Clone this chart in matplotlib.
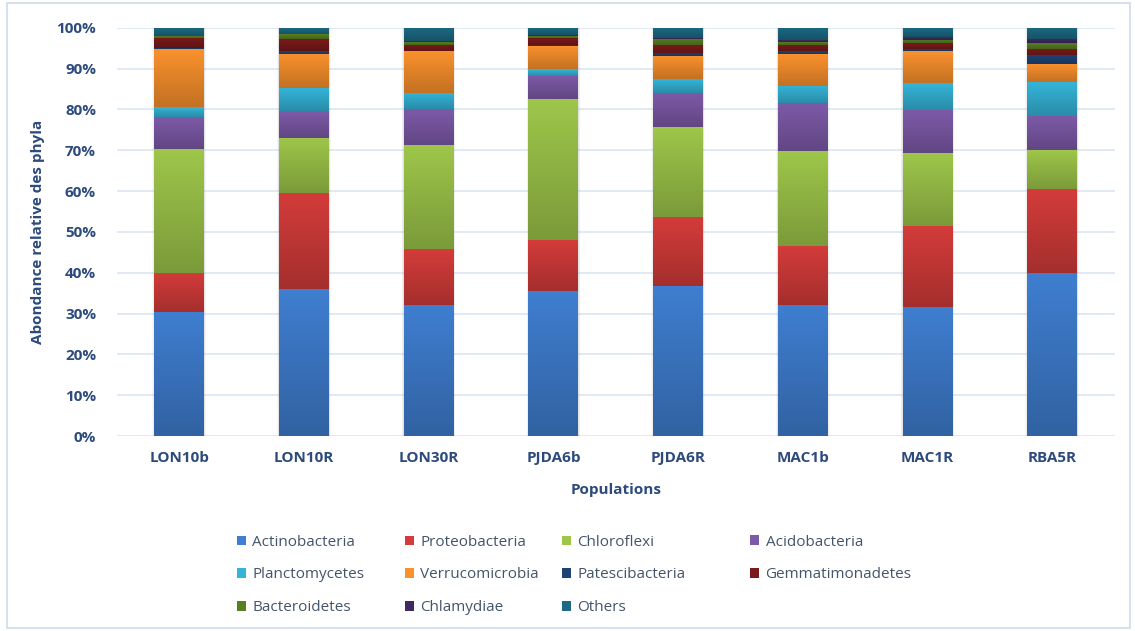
import numpy as np
import matplotlib
matplotlib.use("Agg")
import matplotlib.pyplot as plt
from matplotlib.patches import Rectangle
from matplotlib.colors import to_rgb
from matplotlib.ticker import PercentFormatter

populations = ["LON10b", "LON10R", "LON30R", "PJDA6b", "PJDA6R", "MAC1b", "MAC1R", "RBA5R"]

phyla = ["Actinobacteria", "Proteobacteria", "Chloroflexi", "Acidobacteria",
         "Planctomycetes", "Verrucomicrobia", "Patescibacteria", "Gemmatimonadetes",
         "Bacteroidetes", "Chlamydiae", "Others"]

# relative abundance (%) per population
actinobacteria   = [30.4, 36.0, 32.1, 35.5, 36.8, 32.1, 31.6, 40.0]
proteobacteria   = [ 9.6, 23.6, 13.7, 12.5, 16.9, 14.5, 19.9, 20.5]
chloroflexi      = [30.3, 13.5, 25.6, 34.5, 21.9, 23.1, 17.8,  9.5]
acidobacteria    = [ 7.9,  6.5,  8.6,  5.8,  8.4, 11.8, 10.6,  8.5]
planctomycetes   = [ 2.4,  5.6,  4.1,  1.5,  3.4,  4.2,  6.5,  8.2]
verrucomicrobia  = [14.2,  8.4, 10.1,  5.8,  5.7,  7.8,  7.8,  4.5]
patescibacteria  = [ 0.3,  0.7,  0.2,  0.3,  0.8,  0.7,  0.7,  2.1]
gemmatimonadetes = [ 2.5,  2.9,  1.5,  1.7,  1.9,  1.7,  1.4,  1.6]
bacteroidetes    = [ 0.3,  1.2,  0.6,  0.4,  1.5,  0.6,  0.8,  1.4]
chlamydiae       = [ 0.1,  0.0,  0.2,  0.2,  0.2,  0.4,  0.7,  1.0]
others           = [ 2.0,  1.6,  3.3,  1.8,  2.5,  3.1,  2.2,  2.7]

series = [actinobacteria, proteobacteria, chloroflexi, acidobacteria,
          planctomycetes, verrucomicrobia, patescibacteria, gemmatimonadetes,
          bacteroidetes, chlamydiae, others]

colors = ["#3F7ED0", "#D33C3A", "#9EC64A", "#7D5AA8", "#35B4D8", "#FA912D",
          "#1E4476", "#7A1A1A", "#587E22", "#3F2A60", "#1C6A84"]

text_color = "#2C4A7C"
legend_text = "#44546A"
grid_color = "#DCE6F2"

plt.rcParams["font.family"] = ["Open Sans", "DejaVu Sans"]

fig = plt.figure(figsize=(11.35, 6.31), dpi=100)
ax = fig.add_axes([0.103, 0.309, 0.879, 0.647])

x = np.arange(len(populations))
width = 0.4
bottom = np.zeros(len(populations))


def shade(c, f):
    r, g, b = to_rgb(c)
    return (r * f, g * f, b * f)


for vals, col, name in zip(series, colors, phyla):
    vals = np.asarray(vals, dtype=float)
    bars = ax.bar(x, vals, width, bottom=bottom, color=col, label=name,
                  linewidth=0, zorder=3)
    # vertical gradient: lighter on top, darker at the bottom of each segment
    top_c = np.array(shade(col, 1.0))
    bot_c = np.array(shade(col, 0.78))
    grad = np.linspace(0, 1, 64)[:, None, None]
    img = top_c * (1 - grad) + bot_c * grad
    for rect in bars:
        h = rect.get_height()
        if h <= 0:
            continue
        x0, y0, w = rect.get_x(), rect.get_y(), rect.get_width()
        ax.imshow(img, extent=[x0, x0 + w, y0, y0 + h], origin="upper",
                  aspect="auto", interpolation="bilinear", zorder=3.1)
    bottom += vals

# soft shadow around each stacked bar
for xi, tot in zip(x, bottom):
    for k, a in zip([0.06, 0.04, 0.02], [0.05, 0.07, 0.10]):
        ax.add_patch(Rectangle((xi - width / 2 - k * 0.25, -0.3), width + k * 0.5,
                               tot + 0.3, facecolor="#808080", alpha=a,
                               edgecolor="none", zorder=2.5))

ax.set_xlim(-0.5, len(populations) - 0.5)
ax.set_ylim(0, 100)
ax.set_yticks(np.arange(0, 101, 10))
ax.yaxis.set_major_formatter(PercentFormatter(decimals=0))
ax.set_xticks(x)
ax.set_xticklabels(populations)
ax.grid(axis="y", color=grid_color, linewidth=1.2, zorder=0)
ax.tick_params(length=0, labelsize=11, colors=text_color)
ax.tick_params(axis="y", pad=15)
ax.tick_params(axis="x", pad=11)
for lab in ax.get_xticklabels() + ax.get_yticklabels():
    lab.set_fontweight("bold")
for s in ax.spines.values():
    s.set_visible(False)

ax.set_xlabel("Populations", fontsize=11, fontweight="bold", color=text_color, labelpad=13)
ax.set_ylabel("Abondance relative des phyla", fontsize=11, fontweight="bold",
              color=text_color)
ax.yaxis.set_label_coords(-0.072, 0.5)

# legend: four columns, filled row by row
col_x = [0.209, 0.357, 0.495, 0.661]
row_y = [1 - 542 / 631, 1 - 575 / 631, 1 - 608 / 631]
for c, x0 in enumerate(col_x):
    idx = [i for i in range(c, len(phyla), 4)]
    handles = [Rectangle((0, 0), 1, 1, facecolor=colors[i], edgecolor="none") for i in idx]
    labels = [phyla[i] for i in idx]
    yc = np.mean(row_y[:len(idx)])
    leg = fig.legend(handles, labels, loc="center left", bbox_to_anchor=(x0, yc),
                     frameon=False, fontsize=11, handlelength=0.6, handleheight=0.6,
                     handletextpad=0.4, labelspacing=1.15, borderpad=0,
                     borderaxespad=0)
    for t in leg.get_texts():
        t.set_color(legend_text)

# chart area border
fig.patches.append(Rectangle((0.006, 0.004), 0.99, 0.992, transform=fig.transFigure,
                             fill=False, edgecolor="#D0DCEB", linewidth=1.2))

fig.savefig("out.png", dpi=100)
